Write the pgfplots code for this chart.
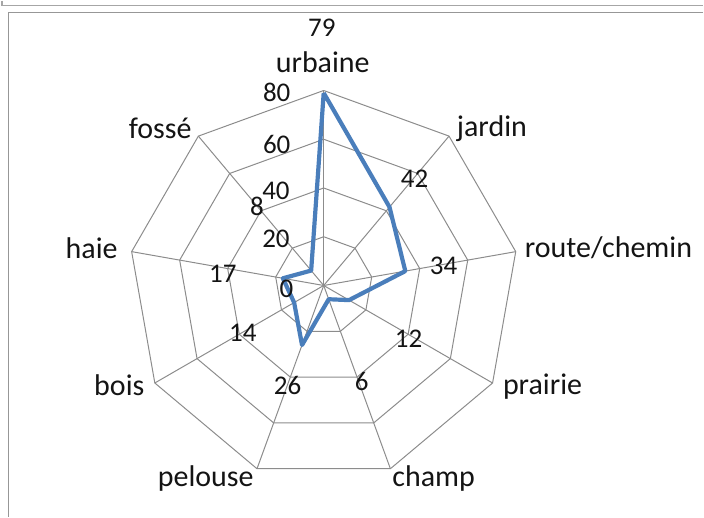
\documentclass[border=0pt]{standalone}
\usepackage{pgfplots}
\pgfplotsset{compat=1.18}
\usepackage{fontspec}
\setmainfont{Carlito}
\definecolor{gridc}{HTML}{8C8C8C}
\definecolor{serie}{HTML}{4A7EBB}
\definecolor{framec}{HTML}{A6A6A6}
\definecolor{txt}{HTML}{141414}
\tikzset{
  lab/.style={font=\fontsize{15}{18}\selectfont, text=txt, inner sep=0pt},
  num/.style={font=\fontsize{13.5}{16}\selectfont, text=txt, inner sep=0pt},
}
\begin{document}
\begin{tikzpicture}
\begin{axis}[
  x=1.22pt, y=1.22pt,
  xmin=-132.8, xmax=155.7, ymin=-95.1, ymax=116.8,
  hide axis, clip=false,
]
% bounding box
\path (rel axis cs:0,0) rectangle (rel axis cs:1,1);
% frames
\draw[framec, line width=0.8pt] (axis cs:-132.0,116.8) -- (axis cs:-132.0,114.8) -- (axis cs:155.7,114.8);
\draw[gridc!90, line width=0.5pt] (axis cs:155.7,111.9) -- (axis cs:-129.5,111.9) -- (axis cs:-129.5,-95.1);
% radar grid rings
\foreach \r in {20,40,60,80}{
  \addplot[gridc, line width=0.5pt, data cs=polar] coordinates
    {(90,\r) (50,\r) (10,\r) (-30,\r) (-70,\r) (-110,\r) (-150,\r) (170,\r) (130,\r) (90,\r)};
}
% spokes
\foreach \a in {90,50,10,-30,-70,-110,-150,170,130}{
  \addplot[gridc, line width=0.5pt, data cs=polar] coordinates {(\a,0) (\a,80)};
}
% data series
\addplot[serie, line width=2.1pt, line join=round, data cs=polar] coordinates {
  (90,79) (50,42) (10,34) (-30,12) (-70,6) (-110,26) (-150,14) (170,17) (130,8) (90,79)
};
% axis value labels
\node[num, anchor=east] at (axis cs:-13.5,79.1) {80};
\node[num, anchor=east] at (axis cs:-13.5,57.8) {60};
\node[num, anchor=east] at (axis cs:-13.8,38.9) {40};
\node[num, anchor=east] at (axis cs:-13.8,19.3) {20};
\node[num, anchor=east] at (axis cs:-12.3,-1.2) {0};
% data labels
\node[num] at (axis cs:-0.8,105.7) {79};
\node[num] at (axis cs:37.3,43.9) {42};
\node[num] at (axis cs:49.2,8.2) {34};
\node[num] at (axis cs:34.8,-21.7) {12};
\node[num] at (axis cs:15.6,-39.3) {6};
\node[num] at (axis cs:-14.8,-41.0) {26};
\node[num] at (axis cs:-33.2,-19.3) {14};
\node[num] at (axis cs:-41.4,4.9) {17};
\node[num] at (axis cs:-27.4,32.6) {8};
% category labels
\node[lab] at (axis cs:-0.4,91.4) {urbaine};
\node[lab, anchor=west] at (axis cs:54.5,64.3) {jardin};
\node[lab, anchor=west] at (axis cs:82.4,15.6) {route/chemin};
\node[lab, anchor=west] at (axis cs:73.4,-41.4) {prairie};
\node[lab] at (axis cs:45.1,-79.1) {champ};
\node[lab] at (axis cs:-48.4,-79.1) {pelouse};
\node[lab, anchor=east] at (axis cs:-73.4,-41.0) {bois};
\node[lab, anchor=east] at (axis cs:-84.4,15.2) {haie};
\node[lab, anchor=east] at (axis cs:-54.1,64.3) {fossé};
\end{axis}
\end{tikzpicture}
\end{document}
